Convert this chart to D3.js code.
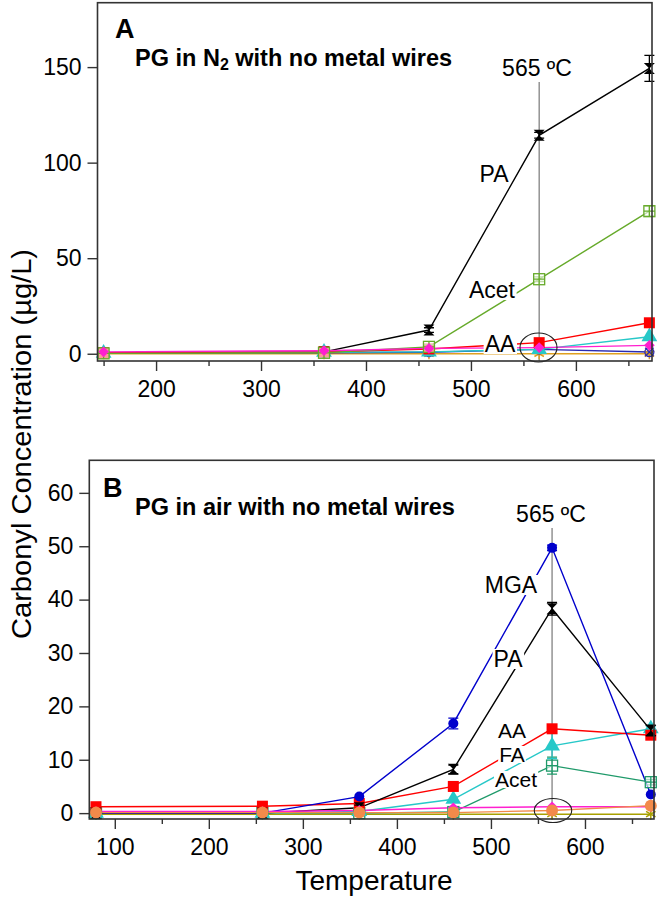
<!DOCTYPE html>
<html><head><meta charset="utf-8">
<script src="https://cdn.jsdelivr.net/npm/d3@7"></script>
<style>
body{margin:0;background:#fff;}
svg{display:block;font-family:"Liberation Sans",Arial,Helvetica,sans-serif;}
</style></head>
<body><svg id="c" width="660" height="898"></svg>
<script>
// ---------- data ----------
const tempsA = [150, 360, 460, 565, 670];
const tempsB = [80, 257, 360, 460, 565, 670];

// Panel A: PG in N2
const PA_A      = [0.3, 1.0, 12.4, 114.3, 149.3];
const PA_A_err  = [0, 0, 1.2, 1.5, 6.8];
const Acet_A    = [0.2, 0.5, 3.6, 39.0, 74.6];
const Acet_A_err= [0, 0, 1.2, 1.2, 2.5];
const AA_A      = [0.5, 1.0, 2.5, 5.8, 16.2];
const FA_A      = [0.3, 0.8, 1.0, 2.3, 8.9];
const MGA_A     = [0.3, 0.5, 0.8, 2.3, 0.9];
const Mag_A     = [1.0, 1.6, 2.8, 3.2, 4.4];
const Ora_A     = [0, 0, 0, 0, 0];

// Panel B: PG in air
const MGA_B     = [0, 0, 3.1, 16.8, 49.7, 3.5];
const MGA_B_err = [0, 0, 0, 1.0, 0.5, 0];
const PA_B      = [0, 0, 1.0, 8.2, 38.3, 15.5];
const PA_B_err  = [0, 0, 0.5, 0.8, 1.2, 1.0];
const AA_B      = [1.2, 1.3, 1.8, 5.0, 15.8, 14.6];
const FA_B      = [0, 0, 0.3, 2.6, 12.6, 15.8];
const FA_B_err  = [0, 0, 0, 0, 2.4, 0.5];
const Acet_B    = [0, 0, 0, 0.2, 8.9, 5.8];
const Acet_B_err= [0, 0, 0, 0, 1.6, 0.5];
const Mag_B     = [0.3, 0.3, 0.5, 1.0, 1.2, 1.2];
const Ora_B     = [0.1, 0.1, 0.1, 0.1, 0.5, 1.4];
const Oli_B     = [-0.2, -0.2, -0.2, -0.2, -0.2, -0.2];

const yTicksA = [0, 50, 100, 150];
const yTicksB = [0, 10, 20, 30, 40, 50, 60];
const xTicksA = [200, 300, 400, 500, 600];
const xMinorA = [150, 250, 350, 450, 550, 650];
const xTicksB = [100, 200, 300, 400, 500, 600];
const xMinorB = [150, 250, 350, 450, 550, 650];

// ---------- drawing ----------
const svg = d3.select("#c");
const FONT = '"Liberation Sans",Arial,Helvetica,sans-serif';

function marker(g, type, color, size) {
  const s = size || 11, h = s/2;
  if (type === "square") {
    g.append("rect").attr("x",-h).attr("y",-h).attr("width",s).attr("height",s).attr("fill",color);
  } else if (type === "tri") {
    g.append("path").attr("d", d3.symbol(d3.symbolTriangle, s*s*0.75)()).attr("fill",color);
  } else if (type === "circle") {
    g.append("circle").attr("r",h).attr("fill",color);
  } else if (type === "hour") {
    g.append("path").attr("d",`M${-h},${-h}L${h},${-h}L${-h},${h}L${h},${h}Z`).attr("fill",color);
  } else if (type === "boxplus") {
    g.append("rect").attr("x",-h).attr("y",-h).attr("width",s).attr("height",s)
      .attr("fill","#fff").attr("fill-opacity",0.6).attr("stroke",color).attr("stroke-width",1.3);
    g.append("path").attr("d",`M0,${-h}V${h}M${-h},0H${h}`).attr("stroke",color).attr("stroke-width",1.3);
  } else if (type === "diamond") {
    g.append("path").attr("d", d3.symbol(d3.symbolDiamond2, s*s*0.6)()).attr("fill",color);
  } else if (type === "aster") {
    g.append("path").attr("d", d3.symbol(d3.symbolAsterisk, s*s*0.7)()).attr("stroke",color).attr("stroke-width",1.5).attr("fill","none");
  } else if (type === "xcirc") {
    g.append("circle").attr("r",h-1).attr("fill","none").attr("stroke",color).attr("stroke-width",1.3);
    g.append("path").attr("d", d3.symbol(d3.symbolTimes, s*s*0.4)()).attr("stroke",color).attr("stroke-width",1.2);
  }
}

function panel(cfg) {
  const {x, y, left, right, top, bottom} = cfg;
  const g = svg.append("g");
  // 565 line
  g.append("line").attr("x1",x(565)).attr("x2",x(565)).attr("y1",cfg.vTop).attr("y2",bottom)
    .attr("stroke","#777").attr("stroke-width",1.2);
  // series lines
  cfg.series.forEach(s => {
    const pts = cfg.temps.map((t,i)=>[x(t), y(s.v[i])]);
    g.append("path").attr("d", d3.line()(pts)).attr("fill","none")
      .attr("stroke", s.color).attr("stroke-width", 1.4);
  });
  // markers + error bars
  cfg.series.forEach(s => {
    cfg.temps.forEach((t,i)=>{
      const cx = x(t), cy = y(s.v[i]);
      if (s.err && s.err[i] > 0) {
        const e1 = y(s.v[i]+s.err[i]), e2 = y(s.v[i]-s.err[i]);
        g.append("path").attr("d",`M${cx},${e1}V${e2}M${cx-5},${e1}H${cx+5}M${cx-5},${e2}H${cx+5}`)
          .attr("stroke", s.color).attr("stroke-width",1.3).attr("fill","none");
      }
      marker(g.append("g").attr("transform",`translate(${cx},${cy})`), s.marker, s.color, s.size);
    });
  });
  // labels with white background
  cfg.labels.forEach(l => {
    const t = g.append("text").attr("x",l.x).attr("y",l.y).attr("text-anchor","middle")
      .attr("font-size",l.fs||23).attr("font-family",FONT).text(l.t);
    if (l.bg !== false) {
      const b = t.node().getBBox();
      g.insert("rect", () => t.node()).attr("x",b.x-1).attr("y",b.y+3).attr("width",b.width+2).attr("height",b.height-6).attr("fill","#fff");
    }
  });
  // ellipse
  g.append("ellipse").attr("cx",cfg.ell[0]).attr("cy",cfg.ell[1]).attr("rx",cfg.ell[2]).attr("ry",cfg.ell[3])
    .attr("fill","none").attr("stroke","#222").attr("stroke-width",1.1);
  // frame
  g.append("rect").attr("x",left).attr("y",top).attr("width",right-left).attr("height",bottom-top)
    .attr("fill","none").attr("stroke","#333").attr("stroke-width",1.6);
  // axes
  const ya = g.append("g").attr("transform",`translate(${left},0)`)
    .call(d3.axisLeft(y).tickValues(cfg.yTicks).tickSize(10).tickPadding(6));
  const xa = g.append("g").attr("transform",`translate(0,${bottom})`)
    .call(d3.axisBottom(x).tickValues(cfg.xTicks).tickSize(10).tickPadding(10));
  const xm = g.append("g").attr("transform",`translate(0,${bottom})`)
    .call(d3.axisBottom(x).tickValues(cfg.xMinor).tickSize(5).tickFormat(""));
  [ya, xa, xm].forEach(a => {
    a.select(".domain").remove();
    a.selectAll("line").attr("stroke","#333").attr("stroke-width",1.4);
    a.selectAll("text").attr("font-size",23).attr("font-family",FONT).attr("fill","#000");
  });
  // titles
  g.append("text").attr("x",cfg.letter[1]).attr("y",cfg.letter[2]).attr("font-weight","bold")
    .attr("font-size",27).attr("font-family",FONT).text(cfg.letter[0]);
  const tt = g.append("text").attr("x",135).attr("y",cfg.titleY).attr("font-weight","bold")
    .attr("font-size",23.5).attr("font-family",FONT);
  cfg.title.forEach(p => {
    const ts = tt.append("tspan").text(p.t);
    if (p.sub) ts.attr("baseline-shift","-28%").attr("font-size",16);
  });
}

const xA = d3.scaleLinear().domain([144.2, 672.5]).range([97.5, 652]);
const yA = d3.scaleLinear().domain([-3.8, 183.7]).range([361, 2.7]);
const xB = d3.scaleLinear().domain([72.9, 673.4]).range([89.3, 654]);
const yB = d3.scaleLinear().domain([-1.1, 66.1]).range([819, 460.3]);

panel({
  x: xA, y: yA, left: 97.5, right: 652, top: 2.7, bottom: 361, vTop: 82,
  temps: tempsA, yTicks: yTicksA, xTicks: xTicksA, xMinor: xMinorA,
  series: [
    {v: Ora_A, color:"#e0a020", marker:"aster", size:11},
    {v: MGA_A, color:"#2b2bb0", marker:"xcirc", size:11},
    {v: PA_A, err: PA_A_err, color:"#000", marker:"hour", size:11},
    {v: FA_A, color:"#27c8c8", marker:"tri", size:12},
    {v: AA_A, color:"#ff0000", marker:"square", size:11},
    {v: Acet_A, err: Acet_A_err, color:"#66aa2a", marker:"boxplus", size:11},
    {v: Mag_A, color:"#ff1fcf", marker:"diamond", size:11},
  ],
  labels: [
    {t:"565 ºC", x:537, y:76, bg:false},
    {t:"PA", x:494, y:182},
    {t:"Acet", x:492, y:298},
    {t:"AA", x:500, y:352},
  ],
  ell: [538.5, 347.5, 18.5, 14.5],
  letter: ["A", 115, 38], titleY: 66,
  title: [{t:"PG in N"},{t:"2",sub:true},{t:" with no metal wires"}]
});

panel({
  x: xB, y: yB, left: 89.3, right: 654, top: 460.3, bottom: 819, vTop: 528,
  temps: tempsB, yTicks: yTicksB, xTicks: xTicksB, xMinor: xMinorB,
  series: [
    {v: Oli_B, color:"#a8a000", marker:"aster", size:11},
    {v: Acet_B, err: Acet_B_err, color:"#1f9a6a", marker:"boxplus", size:11},
    {v: FA_B, err: FA_B_err, color:"#27c8c8", marker:"tri", size:12},
    {v: AA_B, color:"#ff0000", marker:"square", size:11},
    {v: PA_B, err: PA_B_err, color:"#000", marker:"hour", size:11},
    {v: MGA_B, err: MGA_B_err, color:"#0000cc", marker:"circle", size:10},
    {v: Mag_B, color:"#ff1fcf", marker:"diamond", size:11},
    {v: Ora_B, color:"#f28a4a", marker:"circle", size:12},
  ],
  labels: [
    {t:"565 ºC", x:551, y:522, bg:false},
    {t:"MGA", x:511, y:593},
    {t:"PA", x:508, y:667},
    {t:"AA", x:512, y:738, fs:21},
    {t:"FA", x:512, y:762, fs:21},
    {t:"Acet", x:516, y:787, fs:21},
  ],
  ell: [553, 810.5, 18.7, 12],
  letter: ["B", 103, 497], titleY: 515,
  title: [{t:"PG in air with no metal wires"}]
});

// axis titles
svg.append("text").attr("transform","translate(31,444) rotate(-90)").attr("text-anchor","middle")
  .attr("font-size",27).attr("font-family",FONT)
  .attr("textLength",390).attr("lengthAdjust","spacingAndGlyphs")
  .text("Carbonyl Concentration (µg/L)");
svg.append("text").attr("x",374).attr("y",890).attr("text-anchor","middle")
  .attr("font-size",28).attr("font-family",FONT).text("Temperature");
</script>
</body></html>
